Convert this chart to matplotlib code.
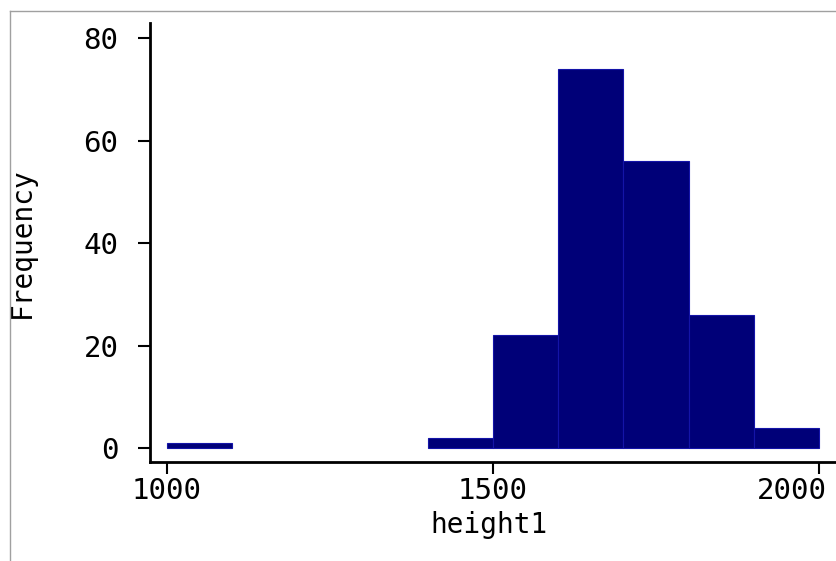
import matplotlib.pyplot as plt
from matplotlib.lines import Line2D
import matplotlib.transforms as mtransforms
import numpy as np

# histogram of height1, bins of width 100
bin_lefts = [1000, 1100, 1200, 1300, 1400, 1500, 1600, 1700, 1800, 1900]
counts = [1, 0, 0, 0, 2, 22, 74, 56, 26, 4]
bin_width = 100

x_ticks = [1000, 1500, 2000]
y_ticks = [0, 20, 40, 60, 80]

W, H = 836, 561
fig = plt.figure(figsize=(W / 100, H / 100), dpi=100)
ax = fig.add_axes([150 / W, (H - 462) / H, (W - 150) / W, (462 - 23) / H])

lefts = np.array(bin_lefts)
vals = np.array(counts)
keep = vals > 0
ax.bar(lefts[keep], vals[keep], width=bin_width, align='edge',
       color='#000078', edgecolor='#1414a8', linewidth=0.8)

ax.set_xlim(974.4, 2026)
ax.set_ylim(-2.73, 83.0)
ax.set_xticks(x_ticks)
ax.set_yticks(y_ticks)

for s in ['top', 'right']:
    ax.spines[s].set_visible(False)
for s in ['left', 'bottom']:
    ax.spines[s].set_linewidth(2.0)
    ax.spines[s].set_color('black')

font = 'DejaVu Sans Mono'
ax.tick_params(axis='both', direction='out', length=8.6, width=1.5,
               labelsize=21, labelfontfamily=font)
ax.tick_params(axis='y', pad=14)
ax.tick_params(axis='x', pad=2)

# last x label is pushed left so it stays inside the graph
last = ax.xaxis.get_major_ticks()[-1].label1
last.set_transform(last.get_transform() +
                   mtransforms.ScaledTranslation(-0.27, 0, fig.dpi_scale_trans))

ax.set_xlabel('height1', fontsize=20, family=font)
ax.set_ylabel('Frequency', fontsize=20, family=font)
ax.xaxis.label.set_va('center')
ax.yaxis.label.set_va('center')
ax.xaxis.set_label_coords(0.494, -0.1435)
ax.yaxis.set_label_coords(-0.1866, 0.5)

# outer graph frame, only top and left edges visible
fig.add_artist(Line2D([10 / W, 10 / W], [0, 1 - 11 / H], color='#a0a0a0', lw=1))
fig.add_artist(Line2D([10 / W, 1], [1 - 11 / H, 1 - 11 / H], color='#a0a0a0', lw=1))

fig.savefig('out.png', dpi=100)
